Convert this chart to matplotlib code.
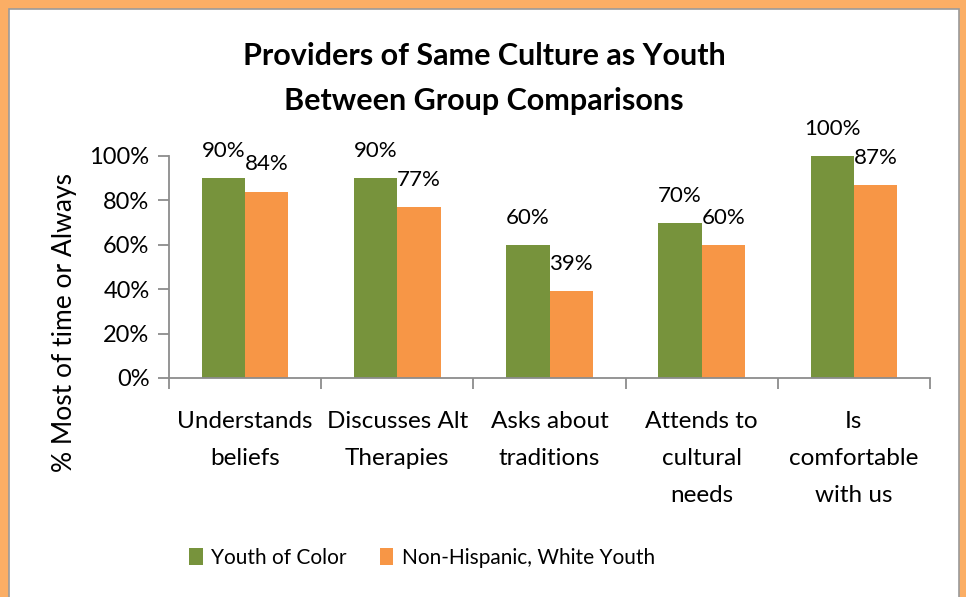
import matplotlib
matplotlib.use('Agg')
import matplotlib.pyplot as plt
import numpy as np
from matplotlib.patches import Rectangle

categories = ['Understands\nbeliefs', 'Discusses Alt\nTherapies', 'Asks about\ntraditions',
              'Attends to\ncultural\nneeds', 'Is\ncomfortable\nwith us']
youth_of_color = [90, 90, 60, 70, 100]
white_youth = [84, 77, 39, 60, 87]
series_names = ['Youth of Color', 'Non-Hispanic, White Youth']

GREEN = '#77933C'
ORANGE = '#F79646'
FRAME = '#FBAE65'
AXIS_GRAY = '#8C8C8C'

plt.rcParams['font.family'] = ['Lato', 'DejaVu Sans']

fig = plt.figure(figsize=(9.66, 5.97), dpi=100)
fig.patch.set_facecolor(FRAME)
# white panel with thin gray edge inside the orange frame
fig.add_artist(Rectangle((9 / 966, -0.01), 950 / 966, 1 - 9 / 597 + 0.01,
                         transform=fig.transFigure, facecolor='white',
                         edgecolor='#9A9A9A', linewidth=1.2, zorder=0))

ax = fig.add_axes([169 / 966, 1 - 378 / 597, 761 / 966, 222 / 597])
ax.set_facecolor('none')

x = np.arange(len(categories))
w = 0.285
b1 = ax.bar(x - w / 2, youth_of_color, w, color=GREEN, label=series_names[0], zorder=2)
b2 = ax.bar(x + w / 2, white_youth, w, color=ORANGE, label=series_names[1], zorder=2)

for bars, vals in ((b1, youth_of_color), (b2, white_youth)):
    for rect, v in zip(bars, vals):
        ax.annotate(f'{v}%', (rect.get_x() + rect.get_width() / 2, v),
                    xytext=(0, 19.5), textcoords='offset points',
                    ha='center', va='center', fontsize=16)

ax.set_xlim(-0.5, len(categories) - 0.5)
ax.set_ylim(0, 100)
ax.set_yticks(range(0, 101, 20))
ax.set_yticklabels([f'{t}%' for t in range(0, 101, 20)], fontsize=17)

# category names centred, tick marks on the group boundaries
ax.set_xticks(x)
ax.set_xticklabels(categories, fontsize=17.5, linespacing=1.92, va='top')
ax.tick_params(axis='x', which='major', length=0, pad=24)
ax.set_xticks(np.arange(-0.5, len(categories)), minor=True)
ax.tick_params(axis='x', which='minor', length=8, width=1.3, color=AXIS_GRAY, direction='out')
ax.tick_params(axis='y', length=8, width=1.3, color=AXIS_GRAY, pad=6)

for s in ('top', 'right'):
    ax.spines[s].set_visible(False)
for s in ('left', 'bottom'):
    ax.spines[s].set_color(AXIS_GRAY)
    ax.spines[s].set_linewidth(1.3)

fig.text(484 / 966, 1 - 65 / 597, 'Providers of Same Culture as Youth',
         ha='center', va='baseline', fontsize=22, fontweight='bold')
fig.text(484 / 966, 1 - 110 / 597, 'Between Group Comparisons',
         ha='center', va='baseline', fontsize=22, fontweight='bold')

fig.text(65 / 966, 1 - 323 / 597, '% Most of time or Always', rotation=90,
         ha='center', va='center', fontsize=19)

fig.legend(handles=[b1, b2], loc='center', bbox_to_anchor=(422 / 966, 1 - 558 / 597),
           ncol=2, frameon=False, fontsize=15, handlelength=0.65, handleheight=0.9,
           handletextpad=0.4, columnspacing=1.6)

fig.savefig('out.png', dpi=100, facecolor=fig.get_facecolor())
